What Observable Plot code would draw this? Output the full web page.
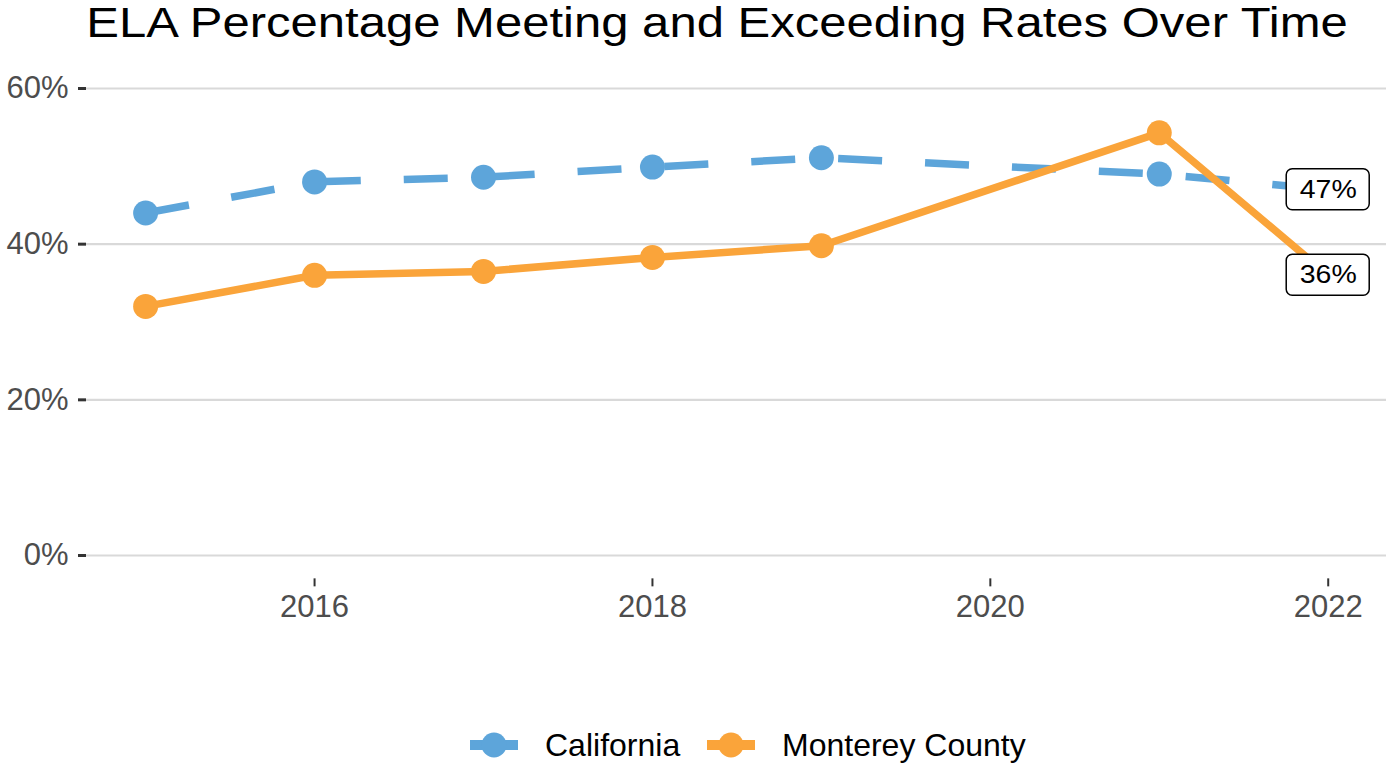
<!DOCTYPE html>
<html><head><meta charset="utf-8">
<script src="https://cdn.jsdelivr.net/npm/d3@7"></script>
<script src="https://cdn.jsdelivr.net/npm/@observablehq/plot@0.6"></script>
<style>
html,body{margin:0;padding:0;background:#fff;overflow:hidden}
#wrap{position:relative;width:1386px;height:764px;font-family:"Liberation Sans",Arial,Helvetica,sans-serif}
#title{position:absolute;top:1px;left:716.5px;font-size:43px;line-height:43px;white-space:nowrap;color:#000;transform:translateX(-50%) scaleX(1.14)}
#chart{position:absolute;top:62px;left:0}
.key{position:absolute;top:730px}
.ltext{position:absolute;font-size:32px;line-height:32px;top:729px;color:#000;white-space:nowrap}
</style></head>
<body><div id="wrap">
<div id="title">ELA Percentage Meeting and Exceeding Rates Over Time</div>
<div id="chart"></div>
<div id="legend"></div>
</div>
<script>
const years = [2015, 2016, 2017, 2018, 2019, 2021, 2022];
const california = [44.0, 48.0, 48.6, 49.9, 51.1, 49.0, 47.0];
const monterey = [32.0, 36.0, 36.5, 38.3, 39.8, 54.3, 36.0];
const seriesNames = ["California", "Monterey County"];
const seriesColors = ["#5DA5DA", "#FAA43A"];
const yTicks = [0, 20, 40, 60];
const xTicks = [2016, 2018, 2020, 2022];

const caData = years.map((y, i) => ({year: y, value: california[i], series: seriesNames[0]}));
const mcData = years.map((y, i) => ({year: y, value: monterey[i], series: seriesNames[1]}));
const last = [caData[caData.length - 1], mcData[mcData.length - 1]];

const plot = Plot.plot({
  width: 1386, height: 600,
  marginLeft: 86, marginRight: 0, marginTop: 2.65, marginBottom: 83.65,
  style: {fontFamily: "Liberation Sans, Arial, Helvetica, sans-serif", fontSize: "31px", background: "transparent", overflow: "visible"},
  x: {domain: [2014.65, 2022.345]},
  y: {domain: [-3, 63]},
  marks: [
    Plot.ruleY(yTicks, {stroke: "#D9D9D9", strokeWidth: 2.2}),
    Plot.axisY({ticks: yTicks, tickSize: 8, tickPadding: 10, stroke: "#333333", strokeWidth: 3, fill: "#4D4D4D", tickFormat: d => d + "%", label: null}),
    Plot.axisX({ticks: xTicks, tickSize: 8, tickPadding: 8, stroke: "#333333", strokeWidth: 2, fill: "#4D4D4D", tickFormat: d => String(d), label: null}),
    Plot.line(caData, {x: "year", y: "value", stroke: seriesColors[0], strokeWidth: 7.5, strokeDasharray: "44,43", strokeLinecap: "butt", strokeLinejoin: "miter"}),
    Plot.dot(caData, {x: "year", y: "value", r: 12.5, fill: seriesColors[0]}),
    Plot.line(mcData, {x: "year", y: "value", stroke: seriesColors[1], strokeWidth: 7.5, strokeLinecap: "butt", strokeLinejoin: "miter"}),
    Plot.dot(mcData, {x: "year", y: "value", r: 12.5, fill: seriesColors[1]}),
    Plot.rect(last, {x1: "year", x2: "year", y1: "value", y2: "value", insetLeft: -41.5, insetRight: -41.5, insetTop: -20.5, insetBottom: -20.5, rx: 6, fill: "white", stroke: "black", strokeWidth: 1.5}),
    Plot.text(last, {x: "year", y: "value", text: d => d.value.toFixed(0) + "%", fontSize: 25, fill: "black"})
  ]
});
document.getElementById("chart").appendChild(plot);
plot.querySelectorAll('g[aria-label="text"] text').forEach(t => {
  t.setAttribute("textLength", 57);
  t.setAttribute("lengthAdjust", "spacingAndGlyphs");
});

// legend
const legend = d3.select("#legend");
const keyLeft = [469, 706];
const textLeft = [545, 782];
seriesNames.forEach((name, i) => {
  const s = legend.append("svg").attr("class", "key").attr("width", 50).attr("height", 30)
    .style("left", keyLeft[i] + "px");
  s.append("line").attr("x1", 1).attr("x2", 49).attr("y1", 15).attr("y2", 15)
    .attr("stroke", seriesColors[i]).attr("stroke-width", 10);
  s.append("circle").attr("cx", 25).attr("cy", 15).attr("r", 12.5).attr("fill", seriesColors[i]);
  legend.append("div").attr("class", "ltext").style("left", textLeft[i] + "px").text(name);
});
</script>
</body></html>
